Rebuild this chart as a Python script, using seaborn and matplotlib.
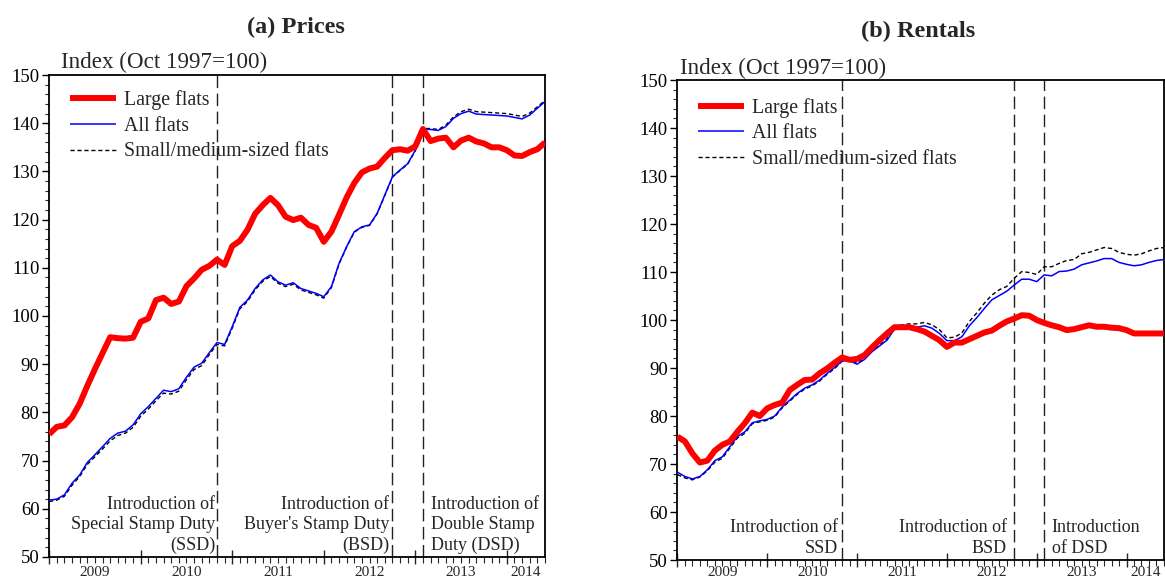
import numpy as np
import pandas as pd
import matplotlib
matplotlib.use("Agg")
import matplotlib.pyplot as plt
from matplotlib.ticker import MultipleLocator, FixedLocator, NullFormatter
import seaborn as sns

# ---------------- data (monthly, Jan 2009 = 0) ----------------
months = list(range(66))
year_labels = ["2009", "2010", "2011", "2012", "2013", "2014"]
year_starts = [0, 12, 24, 36, 48, 60]
year_label_pos = [6, 18, 30, 42, 54, 62.5]

price_large = [75.5, 77.0, 77.3, 79.0, 81.8, 85.5, 89.0, 92.3, 95.6, 95.4, 95.3, 95.5,
               98.8, 99.5, 103.3, 103.8, 102.5, 103.0, 106.2, 107.8, 109.6, 110.4, 111.7, 110.6,
               114.5, 115.6, 117.9, 121.2, 123.0, 124.5, 123.0, 120.6, 119.9, 120.4, 118.9, 118.3,
               115.4, 117.5, 121.0, 124.6, 127.6, 129.8, 130.6, 131.0, 132.8, 134.4, 134.6, 134.3,
               135.2, 138.8, 136.3, 136.8, 137.0, 135.0, 136.4, 137.0, 136.2, 135.8, 135.0, 135.0,
               134.4, 133.3, 133.2, 134.0, 134.6, 136.0]
price_all = [61.8, 62.0, 62.9, 65.3, 67.0, 69.6, 71.2, 72.9, 74.6, 75.7, 76.1, 77.4,
             79.7, 81.2, 82.9, 84.6, 84.3, 84.9, 87.3, 89.4, 90.2, 92.4, 94.5, 94.1,
             97.8, 101.8, 103.3, 105.7, 107.5, 108.5, 107.1, 106.4, 106.9, 105.7, 105.2, 104.7,
             104.0, 106.1, 110.9, 114.4, 117.5, 118.5, 118.9, 121.3, 125.1, 128.9, 130.3, 131.6,
             134.4, 138.8, 138.7, 138.5, 139.3, 141.0, 142.0, 142.5, 141.9, 141.8, 141.7, 141.6,
             141.5, 141.2, 140.9, 141.7, 143.1, 144.5]
price_small = [61.5, 61.8, 62.6, 64.9, 66.7, 69.2, 70.8, 72.4, 74.1, 75.2, 75.7, 76.9,
               79.2, 80.7, 82.4, 84.0, 83.8, 84.4, 86.8, 88.9, 89.7, 92.0, 94.1, 93.8,
               97.5, 101.5, 103.0, 105.4, 107.2, 108.2, 106.8, 106.1, 106.6, 105.4, 104.9, 104.4,
               103.7, 105.9, 110.8, 114.3, 117.4, 118.4, 118.8, 121.2, 125.0, 128.8, 130.2, 131.5,
               134.3, 138.9, 138.9, 138.7, 139.6, 141.3, 142.4, 142.9, 142.4, 142.3, 142.2, 142.1,
               142.0, 141.7, 141.4, 142.1, 143.4, 144.7]

rent_large = [75.7, 74.7, 72.2, 70.3, 70.7, 72.8, 74.0, 74.7, 76.7, 78.5, 80.7, 80.0,
              81.6, 82.3, 82.8, 85.4, 86.5, 87.5, 87.6, 88.9, 89.9, 91.1, 92.2, 91.7,
              91.9, 92.7, 94.3, 95.8, 97.2, 98.5, 98.5, 98.5, 98.1, 97.6, 96.7, 95.8,
              94.4, 95.3, 95.3, 96.0, 96.7, 97.4, 97.8, 98.8, 99.7, 100.3, 101.0, 100.9,
              100.0, 99.4, 98.9, 98.5, 97.9, 98.1, 98.5, 98.9, 98.6, 98.6, 98.4, 98.3,
              97.9, 97.2, 97.2, 97.2, 97.2, 97.2]
rent_all = [68.3, 67.4, 66.9, 67.4, 68.8, 70.7, 71.5, 73.6, 75.7, 76.7, 78.6, 79.0,
            79.3, 80.0, 81.9, 83.3, 84.7, 85.8, 86.5, 87.5, 88.9, 90.1, 91.5, 91.5,
            90.8, 91.8, 93.4, 94.6, 95.8, 98.1, 98.4, 98.5, 98.5, 98.8, 98.3, 97.2,
            95.7, 95.7, 96.5, 98.8, 100.5, 102.4, 104.2, 105.1, 106.0, 107.3, 108.5, 108.5,
            108.0, 109.4, 109.2, 110.1, 110.2, 110.6, 111.5, 111.9, 112.3, 112.8, 112.8, 112.0,
            111.6, 111.3, 111.5, 112.0, 112.4, 112.6]
rent_small = [67.8, 67.1, 66.7, 67.3, 68.6, 70.4, 71.2, 73.3, 75.4, 76.4, 78.4, 78.8,
              79.1, 79.8, 81.7, 83.1, 84.5, 85.6, 86.3, 87.3, 88.7, 89.9, 91.4, 91.6,
              91.0, 92.0, 93.6, 94.8, 96.1, 98.5, 99.0, 99.2, 99.2, 99.5, 99.0, 98.0,
              96.3, 96.4, 97.3, 99.7, 101.5, 103.5, 105.2, 106.3, 107.0, 108.7, 110.1, 109.9,
              109.5, 111.1, 111.1, 111.8, 112.4, 112.6, 113.8, 114.1, 114.6, 115.1, 114.9, 114.1,
              113.7, 113.5, 113.8, 114.4, 114.9, 115.1]

series_names = ["Large flats", "All flats", "Small/medium-sized flats"]
policy_months = [22, 45, 49]

# ---------------- style ----------------
sns.set_style("ticks")
plt.rcParams["font.family"] = ["Liberation Serif", "DejaVu Serif"]
plt.rcParams["mathtext.default"] = "regular"

fig = plt.figure(figsize=(11.65, 5.82), dpi=100)
ax1 = fig.add_axes([0.0422, 0.0430, 0.4256, 0.8281])
ax2 = fig.add_axes([0.5815, 0.0378, 0.4176, 0.8247])

styles = {
    "Large flats": dict(color="#ff0000", linewidth=4.3, linestyle="-", zorder=4),
    "All flats": dict(color="#0000ff", linewidth=1.1, linestyle="-", zorder=3),
    "Small/medium-sized flats": dict(color="black", linewidth=1.0, linestyle=(0, (3, 2)), zorder=2),
}


def draw_panel(ax, large, allf, small, annots, ann_y, legend_anchor, index_pos, year_off):
    df = pd.DataFrame({
        "month": months * 3,
        "value": large + allf + small,
        "series": [series_names[0]] * 66 + [series_names[1]] * 66 + [series_names[2]] * 66,
    })
    handles = {}
    for name in [series_names[2], series_names[1], series_names[0]]:
        st = styles[name]
        sub = df[df["series"] == name]
        sns.lineplot(data=sub, x="month", y="value", ax=ax, color=st["color"],
                     linewidth=st["linewidth"], linestyle=st["linestyle"], zorder=st["zorder"],
                     legend=False, solid_joinstyle="round", solid_capstyle="butt")
        handles[name] = ax.lines[-1]

    for m in policy_months:
        ax.axvline(m, color="#222222", linewidth=1.0, linestyle=(0, (9, 4)), zorder=1)

    ax.set_xlim(0, 65)
    ax.set_ylim(50, 150)
    ax.set_xlabel("")
    ax.set_ylabel("")
    ax.yaxis.set_major_locator(MultipleLocator(10))
    ax.yaxis.set_minor_locator(MultipleLocator(2))
    ax.xaxis.set_major_locator(FixedLocator(year_starts))
    ax.xaxis.set_minor_locator(MultipleLocator(1))
    ax.xaxis.set_major_formatter(NullFormatter())
    ax.tick_params(axis="y", which="major", direction="out", length=5, width=1.0,
                   labelsize=13.5, pad=2, colors="black")
    ax.tick_params(axis="y", which="minor", direction="out", length=3, width=0.8)
    ax.tick_params(axis="x", which="major", direction="inout", length=10, width=1.0)
    ax.tick_params(axis="x", which="minor", direction="out", length=4, width=0.8)
    for sp in ax.spines.values():
        sp.set_visible(True)
        sp.set_linewidth(1.3)
        sp.set_color("black")

    for lab, pos in zip(year_labels, year_label_pos):
        ax.text(pos, year_off, lab, transform=ax.get_xaxis_transform(),
                ha="center", va="top", fontsize=11)

    for (xm, txt, ha) in annots:
        ax.text(xm, ann_y, txt, ha=ha, va="center", multialignment=ha,
                fontsize=13, linespacing=1.25, zorder=5)

    ax.legend([handles[n] for n in series_names], series_names, loc="upper left",
              bbox_to_anchor=legend_anchor, frameon=False, fontsize=14.3,
              handlelength=2.3, handletextpad=0.4, labelspacing=0.33,
              borderaxespad=0, borderpad=0)

    ax.text(index_pos[0], index_pos[1], "Index (Oct 1997=100)", transform=ax.transAxes,
            ha="left", va="center", fontsize=16.6)


draw_panel(ax1, price_large, price_all, price_small,
           [(21.8, "Introduction of\nSpecial Stamp Duty\n(SSD)", "right"),
            (44.6, "Introduction of\nBuyer's Stamp Duty\n(BSD)", "right"),
            (50.1, "Introduction of\nDouble Stamp\nDuty (DSD)", "left")],
           56.6, (0.042, 0.968), (0.024, 1.026), -0.018)

draw_panel(ax2, rent_large, rent_all, rent_small,
           [(21.4, "Introduction of\nSSD", "right"),
            (44.0, "Introduction of\nBSD", "right"),
            (50.0, "Introduction\nof DSD", "left")],
           54.6, (0.042, 0.963), (0.005, 1.024), -0.012)

fig.text(296 / 1165, 1 - 27 / 582, "(a) Prices", ha="center", va="center",
         fontsize=17.5, fontweight="bold")
fig.text(918 / 1165, 1 - 31 / 582, "(b) Rentals", ha="center", va="center",
         fontsize=17.5, fontweight="bold")

fig.savefig("out.png", dpi=100)
